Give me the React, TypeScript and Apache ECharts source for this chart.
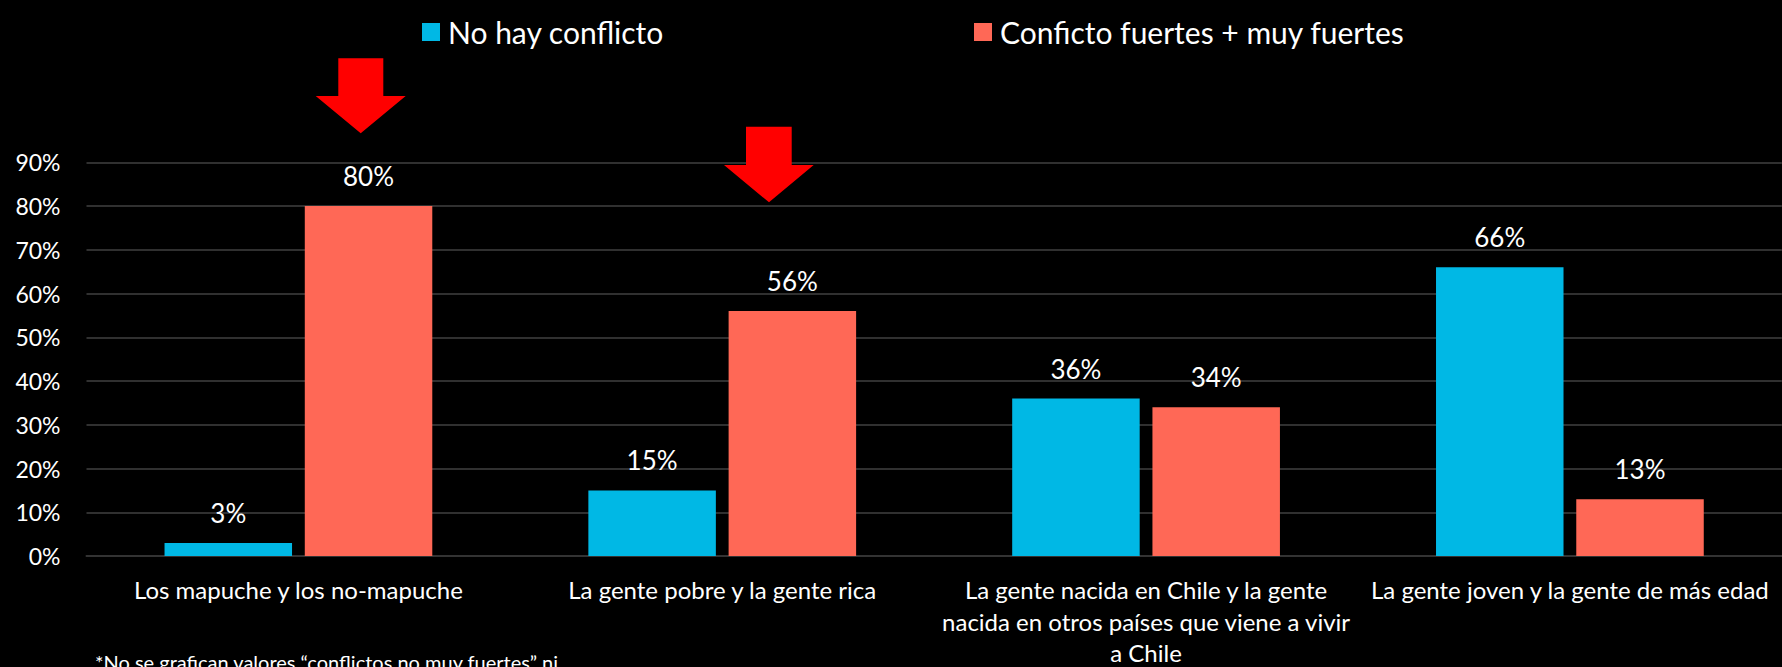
import React, { useEffect, useRef } from "react";
import * as echarts from "echarts";

const categories: string[] = [
  "Los mapuche y los no-mapuche",
  "La gente pobre y la gente rica",
  "La gente nacida en Chile y la gente\nnacida en otros países que viene a vivir\na Chile",
  "La gente joven y la gente de más edad",
];
const seriesNames: string[] = ["No hay conflicto", "Conficto fuertes + muy fuertes"];
const noConflicto: number[] = [3, 15, 36, 66];
const conflictoFuertes: number[] = [80, 56, 34, 13];
const yTicks = { min: 0, max: 90, interval: 10 };
const footnote = "*No se grafican valores “conflictos no muy fuertes” ni";

const FONT = "Lato, 'Open Sans', sans-serif";

export default function App() {
  const ref = useRef<HTMLDivElement>(null);
  useEffect(() => {
    if (!ref.current) return;
    const chart = echarts.init(ref.current, undefined, { renderer: "svg" });
    const arrow = (sx1: number, sx2: number, top: number, headTop: number, hx1: number, hx2: number, tipX: number, tipY: number) => ({
      type: "polygon",
      shape: {
        points: [
          [sx1, top], [sx2, top], [sx2, headTop], [hx2, headTop], [tipX, tipY], [hx1, headTop], [sx1, headTop],
        ],
      },
      style: { fill: "#FF0000" },
      z: 10,
    });
    chart.setOption({
      animation: false,
      backgroundColor: "#000000",
      textStyle: { fontFamily: FONT },
      legend: [
        {
          data: [seriesNames[0]],
          left: 422, top: 17, itemWidth: 18, itemHeight: 18, padding: 0,
          icon: "rect",
          textStyle: { color: "#ffffff", fontSize: 30, fontFamily: FONT, padding: [0, 0, 0, 3] },
        },
        {
          data: [seriesNames[1]],
          left: 974, top: 17, itemWidth: 18, itemHeight: 18, padding: 0,
          icon: "rect",
          textStyle: { color: "#ffffff", fontSize: 30, fontFamily: FONT, padding: [0, 0, 0, 3] },
        },
      ],
      grid: {
        left: 86.5, width: 1695.3, top: 162.3, height: 393.7,
        containLabel: false, outerBoundsMode: "none",
      },
      xAxis: {
        type: "category",
        data: categories,
        axisTick: { show: false },
        axisLine: { show: true, lineStyle: { color: "#333333", width: 2 } },
        axisLabel: {
          interval: 0, color: "#ffffff", fontSize: 24, lineHeight: 31.5, margin: 18, fontFamily: FONT,
        },
      },
      yAxis: {
        type: "value",
        min: yTicks.min, max: yTicks.max, interval: yTicks.interval,
        axisLine: { show: false },
        axisTick: { show: false },
        axisLabel: { color: "#ffffff", fontSize: 23, margin: 26, formatter: "{value}%", fontFamily: FONT },
        splitLine: { lineStyle: { color: "#404040", width: 1.5 } },
      },
      series: [
        {
          name: seriesNames[0], type: "bar", data: noConflicto,
          barWidth: 127.5, barGap: "10%",
          itemStyle: { color: "#00B8E5" },
          label: { show: true, position: "top", distance: 17, color: "#ffffff", fontSize: 26, formatter: "{c}%", fontFamily: FONT },
        },
        {
          name: seriesNames[1], type: "bar", data: conflictoFuertes,
          barWidth: 127.5, barGap: "10%",
          itemStyle: { color: "#FF6856" },
          label: { show: true, position: "top", distance: 17, color: "#ffffff", fontSize: 26, formatter: "{c}%", fontFamily: FONT },
        },
      ],
      graphic: [
        arrow(338.3, 383.3, 58.3, 96, 315.7, 405.7, 360.7, 133.3),
        arrow(746, 791.7, 126.7, 165, 724, 813.7, 769, 202.3),
        {
          type: "text", left: 95, top: 652,
          style: { text: footnote, fill: "#ffffff", fontSize: 20, fontFamily: FONT },
        },
      ],
    });
    return () => chart.dispose();
  }, []);
  return (
    <div
      ref={ref}
      style={{ position: "fixed", left: 0, top: 0, width: 1782, height: 667, background: "#000" }}
    />
  );
}
